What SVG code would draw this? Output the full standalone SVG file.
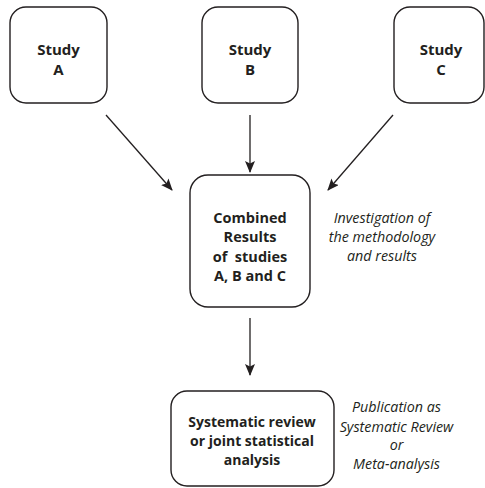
<svg xmlns="http://www.w3.org/2000/svg" width="485" height="488" viewBox="0 0 485 488">
  <style>
    .box { fill: #ffffff; stroke: #231f20; stroke-width: 1.4; }
    .lbl { font-family: "Open Sans", "Noto Sans", sans-serif; font-weight: 700; font-size: 14.5px; fill: #231f20; text-anchor: middle; }
    .big { font-size: 15px; }
    .small { font-size: 14px; }
    .note { font-family: "Open Sans", "Noto Sans", sans-serif; font-style: italic; font-size: 14.3px; fill: #231f20; text-anchor: middle; }
    .edge { stroke: #231f20; stroke-width: 1.3; fill: none; marker-end: url(#head); }
  </style>
  <defs>
    <marker id="head" viewBox="0 0 12 10" refX="11" refY="5" markerWidth="12" markerHeight="10" markerUnits="userSpaceOnUse" orient="auto">
      <path d="M0,0 L12,5 L0,10 L2.5,5 Z" fill="#231f20"/>
    </marker>
  </defs>

  <rect width="485" height="488" fill="#ffffff"/>

  <g id="study-a">
    <rect class="box" x="10" y="7" width="97" height="96" rx="16"/>
    <text class="lbl big" x="58.5" y="55">Study</text>
    <text class="lbl big" x="58.5" y="75">A</text>
  </g>

  <g id="study-b">
    <rect class="box" x="202" y="7" width="96" height="96" rx="16"/>
    <text class="lbl big" x="250" y="55">Study</text>
    <text class="lbl big" x="250" y="75">B</text>
  </g>

  <g id="study-c">
    <rect class="box" x="394" y="7" width="90" height="96" rx="16"/>
    <text class="lbl big" x="441" y="55">Study</text>
    <text class="lbl big" x="441" y="75">C</text>
  </g>

  <g id="combined">
    <rect class="box" x="190" y="175" width="120" height="132" rx="18"/>
    <text class="lbl" x="250" y="223">Combined</text>
    <text class="lbl" x="250" y="242">Results</text>
    <text class="lbl" x="250" y="262" xml:space="preserve">of  studies</text>
    <text class="lbl" x="250" y="281">A, B and C</text>
  </g>

  <g id="investigation-note">
    <text class="note" x="382" y="223">Investigation of</text>
    <text class="note" x="382" y="242">the methodology</text>
    <text class="note" x="382" y="261">and results</text>
  </g>

  <g id="review">
    <rect class="box" x="171" y="391" width="163" height="95" rx="16"/>
    <text class="lbl small" x="252" y="427">Systematic review</text>
    <text class="lbl small" x="252" y="446">or joint statistical</text>
    <text class="lbl small" x="252" y="465">analysis</text>
  </g>

  <g id="publication-note">
    <text class="note" x="396.5" y="412">Publication as</text>
    <text class="note" x="396.5" y="432">Systematic Review</text>
    <text class="note" x="396.5" y="450">or</text>
    <text class="note" x="396.5" y="469">Meta-analysis</text>
  </g>

  <g id="connectors">
    <line class="edge" x1="106" y1="115" x2="172" y2="190"/>
    <line class="edge" x1="250" y1="115" x2="250" y2="172"/>
    <line class="edge" x1="393" y1="115" x2="328" y2="190"/>
    <line class="edge" x1="250" y1="318" x2="250" y2="375"/>
  </g>
</svg>
